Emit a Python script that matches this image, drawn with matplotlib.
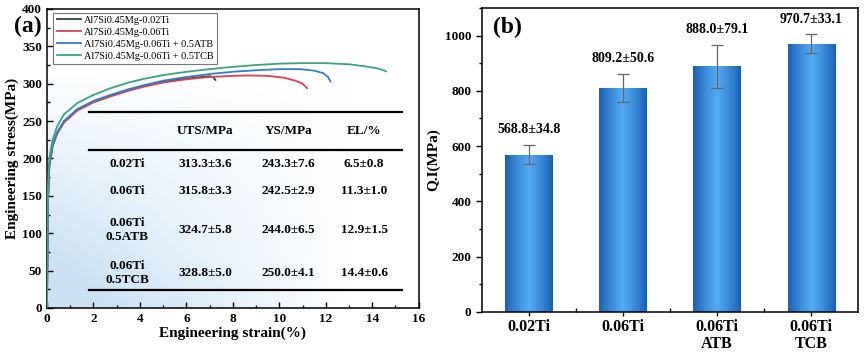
import numpy as np
import matplotlib
matplotlib.use("Agg")
import matplotlib.pyplot as plt
from matplotlib.ticker import MultipleLocator, FixedLocator

plt.rcParams['font.family'] = ['Liberation Serif', 'DejaVu Serif']
plt.rcParams['font.weight'] = 'bold'
plt.rcParams['axes.labelweight'] = 'bold'

# ---- panel (a): stress-strain curves ----
labels = ['Al7Si0.45Mg-0.02Ti', 'Al7Si0.45Mg-0.06Ti',
          'Al7Si0.45Mg-0.06Ti + 0.5ATB', 'Al7Si0.45Mg-0.06Ti + 0.5TCB']
colors = ['#3a3a3a', '#d9424f', '#2f7fcc', '#3aa57c']

strain_02ti = [0, 0.04, 0.1, 0.24, 0.44, 0.73, 1.3, 2.0, 2.74, 3.5, 4.17, 5.0, 5.9, 6.5, 7.0,
               7.15, 7.25]
stress_02ti = [0, 140, 190, 217, 234, 249, 265, 276, 284, 291.5, 297, 302.5, 306.5, 308.5, 310,
               309, 305]

strain_06ti = [0, 0.04, 0.1, 0.24, 0.44, 0.73, 1.3, 2.0, 2.74, 3.5, 4.17, 5.0, 5.9, 7.0, 8.0,
               8.6, 9.5, 10.2, 10.7, 11.0, 11.2]
stress_06ti = [0, 140, 189, 216, 233, 248, 264, 275, 283, 290.5, 296, 301.5, 305.5, 309, 310.5,
               311, 310.5, 308, 304, 300, 294]

strain_atb = [0, 0.04, 0.1, 0.24, 0.44, 0.73, 1.3, 2.0, 2.74, 3.5, 4.17, 5.0, 5.9, 7.0, 8.0,
              9.0, 10.0, 10.9, 11.5, 11.9, 12.1, 12.2]
stress_atb = [0, 142, 191, 218, 235, 250, 266, 277, 285, 292.5, 298, 304, 308.5, 313, 316,
              318, 319.5, 319.5, 317.5, 314, 309, 303]

strain_tcb = [0, 0.04, 0.1, 0.24, 0.44, 0.73, 1.3, 2.0, 2.74, 3.5, 4.17, 5.0, 5.9, 7.0, 8.0,
              9.0, 10.0, 11.0, 12.0, 13.0, 13.75, 14.3, 14.6]
stress_tcb = [0, 155, 200, 225, 243, 259, 274, 285, 294, 301.5, 306.5, 311.5, 315.5, 319.5,
              322.5, 325, 326.8, 327.6, 327.5, 326, 323, 320, 316.5]

strains = [strain_02ti, strain_06ti, strain_atb, strain_tcb]
stresses = [stress_02ti, stress_06ti, stress_atb, stress_tcb]

table_cols = ['', 'UTS/MPa', 'YS/MPa', 'EL/%']
table_rows = ['0.02Ti', '0.06Ti', '0.06Ti\n0.5ATB', '0.06Ti\n0.5TCB']
uts = ['313.3±3.6', '315.8±3.3', '324.7±5.8', '328.8±5.0']
ys = ['243.3±7.6', '242.5±2.9', '244.0±6.5', '250.0±4.1']
el = ['6.5±0.8', '11.3±1.0', '12.9±1.5', '14.4±0.6']

# ---- panel (b): quality index ----
groups = ['0.02Ti', '0.06Ti', '0.06Ti\nATB', '0.06Ti\nTCB']
qi = [568.8, 809.2, 888.0, 970.7]
qi_err = [34.8, 50.6, 79.1, 33.1]

fig = plt.figure(figsize=(8.65, 3.58), dpi=100)

# ================= (a) =================
ax1 = fig.add_axes([0.0543, 0.1397, 0.4297, 0.8353])
ax1.set_xlim(0, 16)
ax1.set_ylim(0, 400)

# light blue background wash
gx, gy = np.meshgrid(np.linspace(0, 16, 200), np.linspace(0, 400, 200))
w = np.clip(1 - gx / 13.0, 0, 1) * np.clip(1 - gy / 320.0, 0, 1)
w = np.clip(w * 1.3, 0, 1)
c0 = np.array([1.0, 1.0, 1.0])
c1 = np.array([0.80, 0.89, 0.96])
img = c0[None, None, :] * (1 - w[..., None]) + c1[None, None, :] * w[..., None]
ax1.imshow(img, extent=[0, 16, 0, 400], origin='lower', aspect='auto', zorder=0)

for s, t, c, lab in zip(strains, stresses, colors, labels):
    ax1.plot(s, t, color=c, lw=1.3, label=lab, zorder=3)

leg = ax1.legend(loc='upper left', bbox_to_anchor=(0.012, 0.995),
                 prop={'family': 'Liberation Serif', 'weight': 'normal', 'size': 7.4},
                 frameon=True, fancybox=False, edgecolor='#555555', handlelength=2.4,
                 handletextpad=0.3, borderpad=0.3, labelspacing=0.28, borderaxespad=0.2)
leg.get_frame().set_linewidth(0.8)

# table drawn in data coords
x0, x1 = 1.8, 15.3
ax1.plot([x0, x1], [262, 262], color='black', lw=1.6, zorder=4)
ax1.plot([x0, x1], [211, 211], color='black', lw=1.6, zorder=4)
ax1.plot([x0, x1], [24, 24], color='black', lw=1.6, zorder=4)
col_x = [3.45, 6.8, 10.4, 13.65]
row_y = [193, 156, 104, 47]
fs_tab = 9.5
for cx, h in zip(col_x, table_cols):
    ax1.text(cx, 237, h, ha='center', va='center', fontsize=fs_tab, fontweight='bold', zorder=5)
for i in range(len(table_rows)):
    vals = [table_rows[i], uts[i], ys[i], el[i]]
    for cx, v in zip(col_x, vals):
        ax1.text(cx, row_y[i], v, ha='center', va='center', fontsize=fs_tab,
                 fontweight='bold', linespacing=1.2, zorder=5)

ax1.xaxis.set_major_locator(MultipleLocator(2))
ax1.xaxis.set_minor_locator(MultipleLocator(1))
ax1.yaxis.set_major_locator(MultipleLocator(50))
ax1.yaxis.set_minor_locator(MultipleLocator(25))
ax1.tick_params(which='both', direction='in', labelsize=9.5, width=1)
ax1.tick_params(which='major', length=4)
ax1.tick_params(which='minor', length=2)
ax1.set_xlabel('Engineering strain(%)', fontsize=11, labelpad=1)
ax1.set_ylabel('Engineering stress(MPa)', fontsize=11, labelpad=2)
for sp in ax1.spines.values():
    sp.set_linewidth(1.1)
for lab in ax1.get_xticklabels() + ax1.get_yticklabels():
    lab.set_fontweight('bold')
fig.text(0.032, 0.925, '(a)', fontsize=17, fontweight='bold', ha='center', va='center')

# ================= (b) =================
ax2 = fig.add_axes([0.557, 0.1285, 0.435, 0.8495])
ax2.set_xlim(-0.5, 3.5)
ax2.set_ylim(0, 1100)
pos = np.arange(len(groups))
bars = ax2.bar(pos, qi, width=0.5, color='none', edgecolor='none', zorder=2)

# cylinder-like horizontal gradient inside each bar
grad = np.linspace(0, 1, 256)
prof = np.clip(1 - np.abs(grad - 0.5) * 2, 0, 1) ** 0.8
dark = np.array([0.09, 0.36, 0.69])
light = np.array([0.33, 0.67, 0.96])
gimg = dark[None, :] * (1 - prof[:, None]) + light[None, :] * prof[:, None]
gimg = gimg[None, :, :]
for b in bars:
    x, y = b.get_x(), b.get_y()
    im = ax2.imshow(gimg, extent=[x, x + b.get_width(), y, y + b.get_height()],
                    aspect='auto', zorder=2)
    im.set_clip_path(b)

ax2.errorbar(pos, qi, yerr=qi_err, fmt='none', ecolor='#666666', elinewidth=0.9,
             capsize=4, capthick=0.9, zorder=3)
for p, v, e in zip(pos, qi, qi_err):
    ax2.text(p, v + e + 32, f'{v:.1f}±{e:.1f}', ha='center', va='bottom',
             fontsize=10, fontweight='bold')

ax2.set_xticks(pos)
ax2.set_xticklabels(groups, fontsize=11.5, fontweight='bold', linespacing=1.05)
ax2.xaxis.set_minor_locator(FixedLocator([0.5, 1.5, 2.5]))
ax2.yaxis.set_major_locator(MultipleLocator(200))
ax2.yaxis.set_minor_locator(MultipleLocator(100))
ax2.tick_params(axis='y', which='both', direction='out', labelsize=9.5, width=1)
ax2.tick_params(axis='y', which='major', length=4)
ax2.tick_params(axis='y', which='minor', length=2)
ax2.tick_params(axis='x', which='major', direction='out', length=3, width=1, pad=2)
ax2.tick_params(axis='x', which='minor', direction='in', length=3, width=1)
ax2.set_ylabel('Q.I(MPa)', fontsize=11, labelpad=3)
for sp in ax2.spines.values():
    sp.set_linewidth(1.1)
for lab in ax2.get_yticklabels():
    lab.set_fontweight('bold')
ax2.text(0.03, 0.97, '(b)', transform=ax2.transAxes, fontsize=17, fontweight='bold',
         va='top', ha='left')

fig.savefig('out.png', dpi=100)
